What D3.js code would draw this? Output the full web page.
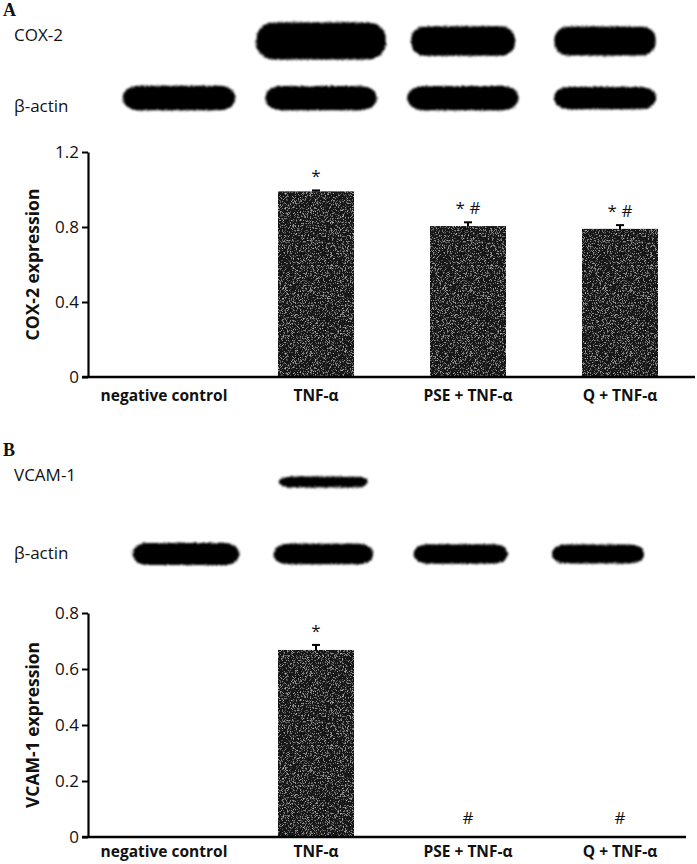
<!DOCTYPE html>
<html>
<head>
<meta charset="utf-8">
<script src="https://cdn.jsdelivr.net/npm/d3@7"></script>
<style>
  body { margin: 0; background: #fff; }
  text { font-family: "Open Sans", "Noto Sans", sans-serif; fill: #111; }
</style>
</head>
<body>
<svg id="fig" width="697" height="864"></svg>
<script>
// groups shared by both panels
const groups = ["negative control", "TNF-\u03b1", "PSE + TNF-\u03b1", "Q + TNF-\u03b1"];

// panel A: COX-2
const coxValues = [0, 0.99, 0.805, 0.79];
const coxErrors = [0, 0.005, 0.02, 0.02];
const coxMarks = ["", "*", "* #", "* #"];
const coxTicks = [0, 0.4, 0.8, 1.2];

// panel B: VCAM-1
const vcamValues = [0, 0.668, 0, 0];
const vcamErrors = [0, 0.018, 0, 0];
const vcamMarks = ["", "*", "#", "#"];
const vcamTicks = [0, 0.2, 0.4, 0.6, 0.8];

// relative blot band intensities (0 = no band)
const coxBand = [0, 1.0, 0.8, 0.78];
const actinBandA = [0.98, 0.97, 0.97, 0.89];
const vcamBand = [0, 1.0, 0, 0];
const actinBandB = [1.0, 0.93, 0.88, 0.86];

const svg = d3.select("#fig");
const defs = svg.append("defs");

// speckled fill for bars
const grain = defs.append("filter").attr("id", "grain")
  .attr("x", 0).attr("y", 0).attr("width", 1).attr("height", 1);
grain.append("feTurbulence").attr("type", "fractalNoise")
  .attr("baseFrequency", 1.6).attr("numOctaves", 2).attr("seed", 7).attr("result", "n");
grain.append("feColorMatrix").attr("in", "n").attr("type", "matrix")
  .attr("values", "0 0 0 0 0.55  0 0 0 0 0.55  0 0 0 0 0.55  0 0 0 3.2 -1.75")
  .attr("result", "speck");
grain.append("feComposite").attr("in", "speck").attr("in2", "SourceGraphic")
  .attr("operator", "in").attr("result", "s");
const gm = grain.append("feMerge");
gm.append("feMergeNode").attr("in", "SourceGraphic");
gm.append("feMergeNode").attr("in", "s");

// rough, soft edges for blot bands
const rough = defs.append("filter").attr("id", "rough")
  .attr("x", -0.1).attr("y", -0.5).attr("width", 1.2).attr("height", 2);
rough.append("feTurbulence").attr("type", "fractalNoise")
  .attr("baseFrequency", 1.2).attr("numOctaves", 1).attr("seed", 2).attr("result", "t");
rough.append("feDisplacementMap").attr("in", "SourceGraphic").attr("in2", "t")
  .attr("scale", 4).attr("xChannelSelector", "R").attr("yChannelSelector", "G").attr("result", "d");
rough.append("feGaussianBlur").attr("in", "d").attr("stdDeviation", 0.9);

function panelLetter(letter, y) {
  svg.append("text")
    .attr("x", 3).attr("y", y)
    .style("font-family", "'Liberation Serif', serif")
    .style("font-weight", "bold")
    .style("font-size", "18px")
    .text(letter);
}

function blotRow(label, bands, opts) {
  const lane = d3.scalePoint().domain(groups).range(opts.lanes);
  const w = d3.scaleLinear().domain([0, 1]).range([0, opts.width]);
  const h = d3.scaleLinear().domain([0, 1]).range([0, opts.height]);

  svg.append("text")
    .attr("x", 14).attr("y", opts.labelY)
    .style("font-size", "17px")
    .text(label);

  svg.append("g")
    .selectAll("rect")
    .data(bands.map((v, i) => ({ g: groups[i], v })).filter(d => d.v > 0))
    .join("rect")
    .attr("x", d => lane(d.g) - w(d.v) / 2)
    .attr("y", d => opts.cy - h(d.v) / 2)
    .attr("width", d => w(d.v))
    .attr("height", d => h(d.v))
    .attr("rx", d => w(d.v) * 0.14)
    .attr("ry", d => h(d.v) * opts.round)
    .attr("fill", "#050505")
    .attr("filter", "url(#rough)");
}

function barChart(cfg) {
  const x = d3.scaleBand().domain(groups).range([88, 696])
    .paddingInner(0.5).paddingOuter(0.25);
  const y = d3.scaleLinear().domain(cfg.domain).range([cfg.bottom, cfg.top]);
  const data = groups.map((g, i) => ({ g, v: cfg.values[i], e: cfg.errors[i], m: cfg.marks[i] }));

  const g = svg.append("g");

  // bars
  g.append("g")
    .selectAll("rect")
    .data(data.filter(d => d.v > 0))
    .join("rect")
    .attr("x", d => x(d.g))
    .attr("y", d => y(d.v))
    .attr("width", x.bandwidth())
    .attr("height", d => y(0) - y(d.v))
    .attr("fill", "#141414")
    .attr("filter", "url(#grain)");

  // error bars
  const eb = g.append("g")
    .selectAll("g")
    .data(data.filter(d => d.e > 0))
    .join("g")
    .attr("stroke", "#000")
    .attr("stroke-width", 2);
  eb.append("line")
    .attr("x1", d => x(d.g) + x.bandwidth() / 2)
    .attr("x2", d => x(d.g) + x.bandwidth() / 2)
    .attr("y1", d => y(d.v))
    .attr("y2", d => y(d.v + d.e));
  eb.append("line")
    .attr("x1", d => x(d.g) + x.bandwidth() / 2 - 4)
    .attr("x2", d => x(d.g) + x.bandwidth() / 2 + 4)
    .attr("y1", d => y(d.v + d.e))
    .attr("y2", d => y(d.v + d.e));

  // significance marks
  g.append("g")
    .selectAll("text")
    .data(data.filter(d => d.m))
    .join("text")
    .attr("x", d => x(d.g) + x.bandwidth() / 2)
    .attr("y", d => y(d.v + d.e) - (d.v > 0 ? 8 : 13))
    .attr("text-anchor", "middle")
    .style("font-size", "17px")
    .text(d => d.m);

  // y axis
  const yAxis = g.append("g")
    .attr("transform", "translate(88,0)")
    .call(d3.axisLeft(y).tickValues(cfg.ticks).tickSize(6).tickSizeOuter(0).tickPadding(3)
      .tickFormat(d => d === 0 ? "0" : d3.format(".1f")(d)));
  yAxis.select(".domain").attr("stroke-width", 2.2);
  yAxis.selectAll(".tick line").attr("stroke-width", 2);
  yAxis.selectAll(".tick text")
    .style("font-family", "'Open Sans', sans-serif")
    .style("font-size", "17px")
    .attr("fill", "#111");

  // x axis
  const xAxis = g.append("g")
    .attr("transform", `translate(0,${cfg.bottom})`)
    .call(d3.axisBottom(x).tickSize(0).tickPadding(cfg.labelPad));
  xAxis.select(".domain").remove();
  xAxis.selectAll(".tick text")
    .style("font-family", "'Open Sans', sans-serif")
    .style("font-size", "15.5px")
    .style("font-weight", "bold")
    .attr("fill", "#111");
  g.append("line")
    .attr("x1", 82).attr("x2", cfg.axisEnd)
    .attr("y1", y(0)).attr("y2", y(0))
    .attr("stroke", "#000").attr("stroke-width", 2.6);

  // y label
  g.append("text")
    .attr("transform", `translate(39,${(cfg.top + cfg.bottom) / 2}) rotate(-90)`)
    .attr("text-anchor", "middle")
    .style("font-size", "17.5px")
    .style("font-weight", "bold")
    .text(cfg.ylabel);
}

// panel A
panelLetter("A", 16);
blotRow("COX-2", coxBand, { lanes: [179, 605], width: 130, height: 37, cy: 41, labelY: 41, round: 0.45 });
blotRow("\u03b2-actin", actinBandA, { lanes: [179, 605], width: 115, height: 25, cy: 98, labelY: 112, round: 0.5 });
barChart({
  values: coxValues, errors: coxErrors, marks: coxMarks, ticks: coxTicks,
  domain: [0, 1.2], top: 152, bottom: 377, axisEnd: 695, labelPad: 13, ylabel: "COX-2 expression"
});

// panel B
panelLetter("B", 456);
blotRow("VCAM-1", vcamBand, { lanes: [186, 598], width: 89, height: 11, cy: 482, labelY: 481, round: 0.5 });
blotRow("\u03b2-actin", actinBandB, { lanes: [186, 598], width: 107, height: 22, cy: 554, labelY: 559, round: 0.5 });
barChart({
  values: vcamValues, errors: vcamErrors, marks: vcamMarks, ticks: vcamTicks,
  domain: [0, 0.8], top: 613, bottom: 837, axisEnd: 686, labelPad: 9, ylabel: "VCAM-1 expression"
});
</script>
</body>
</html>
